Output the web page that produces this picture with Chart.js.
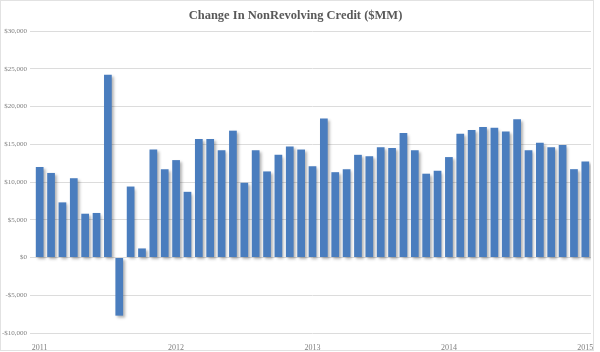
<!DOCTYPE html>
<html>
<head>
<meta charset="utf-8">
<script src="https://cdn.jsdelivr.net/npm/chart.js@4"></script>
<style>
    html, body { margin: 0; padding: 0; background: #fff; }
    #wrap { width: 600px; height: 352px; position: relative; }
</style>
</head>
<body>
<div id="wrap"><canvas id="chart-credito" width="600" height="352"></canvas></div>
<script>
const BLUE = '#4a7dbe';
const GRID = '#dcdcdc';
const TEXT = '#808080';

// meses ene-2011 .. ene-2015
const YEARS = ['2011', '2012', '2013', '2014', '2015'];
const MONTHS = ['01', '02', '03', '04', '05', '06', '07', '08', '09', '10', '11', '12'];

// cambio mensual en credito no revolvente ($MM)
const VALUES_2011 = [12000, 11200, 7300, 10500, 5800, 5900, 24200, -7700, 9400, 1200, 14300, 11700];
const VALUES_2012 = [12900, 8700, 15700, 15700, 14200, 16800, 9900, 14200, 11400, 13600, 14700, 14300];
const VALUES_2013 = [12100, 18400, 11300, 11700, 13600, 13400, 14600, 14500, 16500, 14200, 11100, 11500];
const VALUES_2014 = [13300, 16400, 16900, 17300, 17200, 16700, 18300, 14200, 15200, 14600, 14900, 11700];
const VALUES_2015 = [12700];

const Y_MIN = -10000;
const Y_MAX = 30000;
const Y_STEP = 5000;

const labels = [];
YEARS.forEach((y) => {
    const n = y === '2015' ? 1 : 12;
    for (let i = 0; i < n; i++) labels.push(`${y}-${MONTHS[i]}`);
});
const values = [...VALUES_2011, ...VALUES_2012, ...VALUES_2013, ...VALUES_2014, ...VALUES_2015];

function formatDollars(v) {
    const abs = Math.abs(v).toLocaleString('en-US');
    return v < 0 ? `-$${abs}` : `$${abs}`;
}

const barShadow = {
    id: 'barShadow',
    beforeDatasetsDraw(chart) {
        const ctx = chart.ctx;
        ctx.save();
        ctx.shadowColor = 'rgba(0,0,0,0.3)';
        ctx.shadowBlur = 3;
        ctx.shadowOffsetX = 2;
        ctx.shadowOffsetY = 2;
    },
    afterDatasetsDraw(chart) {
        chart.ctx.restore();
    },
};

const frame = {
    id: 'frame',
    afterDraw(chart) {
        const ctx = chart.ctx;
        ctx.save();
        ctx.strokeStyle = '#e2e2e2';
        ctx.lineWidth = 1;
        ctx.strokeRect(0.5, 0.5, 593, 350);
        ctx.restore();
    },
};

new Chart(document.getElementById('chart-credito'), {
    type: 'bar',
    data: {
        labels,
        datasets: [{
            data: values,
            backgroundColor: BLUE,
            borderWidth: 0,
            barPercentage: 0.68,
            categoryPercentage: 1,
        }],
    },
    options: {
        responsive: false,
        animation: false,
        layout: { padding: { left: 0, right: 9, top: 0, bottom: 0 } },
        plugins: {
            legend: { display: false },
            tooltip: { enabled: false },
            title: {
                display: true,
                text: 'Change In NonRevolving Credit ($MM)',
                color: '#595959',
                font: { family: 'Liberation Serif', size: 12.5, weight: 'bold', lineHeight: 1.2 },
                padding: { top: 8, bottom: 8 },
            },
        },
        scales: {
            x: {
                grid: { display: false },
                border: { display: false },
                ticks: {
                    autoSkip: false,
                    maxRotation: 0,
                    color: TEXT,
                    padding: 2,
                    font: { family: 'Liberation Serif', size: 8 },
                    callback(value) {
                        const l = this.getLabelForValue(value);
                        return l.endsWith('-01') ? l.slice(0, 4) : '';
                    },
                },
                afterFit(scale) { scale.height = 19; },
            },
            y: {
                min: Y_MIN,
                max: Y_MAX,
                grid: { color: GRID, tickLength: 4, tickColor: GRID },
                border: { display: false },
                ticks: {
                    stepSize: Y_STEP,
                    color: TEXT,
                    padding: 3,
                    font: { family: 'Liberation Serif', size: 7 },
                    callback: (v) => formatDollars(v),
                },
                afterFit(scale) { scale.width = 34; },
            },
        },
    },
    plugins: [barShadow, frame],
});
</script>
</body>
</html>
